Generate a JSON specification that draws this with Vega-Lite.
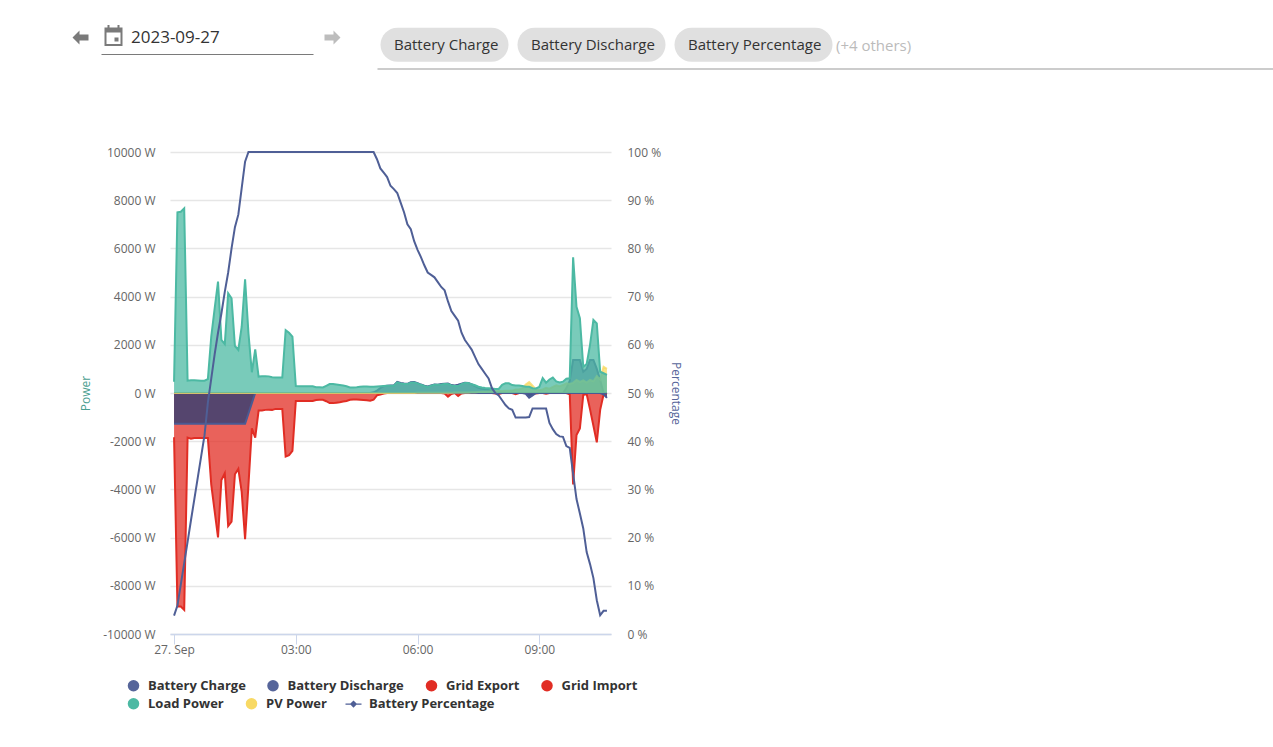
{
  "$schema": "https://vega.github.io/schema/vega-lite/v6.json",
  "width": 441,
  "height": 482,
  "autosize": {"type": "none"},
  "padding": {"left": 170, "top": 152, "right": 662, "bottom": 113},
  "background": "#ffffff",
  "config": {
    "font": "Open Sans",
    "view": {"stroke": null},
    "legend": {"title": null, "padding": 0, "labelFont": "Open Sans", "symbolStrokeWidth": 0}
  },
  "datasets": {
    "power": [
      {"t":"2023-09-27T00:00:00Z","charge":-1280,"discharge":0,"gridExport":0,"gridImport":-1840,"load":470,"pv":0,"pct":3.8},
      {"t":"2023-09-27T00:05:00Z","charge":-1280,"discharge":0,"gridExport":0,"gridImport":-8860,"load":7500,"pv":0,"pct":5.9},
      {"t":"2023-09-27T00:10:00Z","charge":-1280,"discharge":0,"gridExport":0,"gridImport":-8860,"load":7520,"pv":0,"pct":10.3},
      {"t":"2023-09-27T00:15:00Z","charge":-1280,"discharge":0,"gridExport":0,"gridImport":-9000,"load":7660,"pv":0,"pct":14.7},
      {"t":"2023-09-27T00:20:00Z","charge":-1280,"discharge":0,"gridExport":0,"gridImport":-1850,"load":510,"pv":0,"pct":19.1},
      {"t":"2023-09-27T00:25:00Z","charge":-1280,"discharge":0,"gridExport":0,"gridImport":-1900,"load":530,"pv":0,"pct":23.6},
      {"t":"2023-09-27T00:30:00Z","charge":-1280,"discharge":0,"gridExport":0,"gridImport":-1870,"load":530,"pv":0,"pct":28},
      {"t":"2023-09-27T00:35:00Z","charge":-1280,"discharge":0,"gridExport":0,"gridImport":-1870,"load":520,"pv":0,"pct":32.4},
      {"t":"2023-09-27T00:40:00Z","charge":-1280,"discharge":0,"gridExport":0,"gridImport":-1870,"load":510,"pv":0,"pct":36.8},
      {"t":"2023-09-27T00:45:00Z","charge":-1280,"discharge":0,"gridExport":0,"gridImport":-1870,"load":510,"pv":0,"pct":41.2},
      {"t":"2023-09-27T00:50:00Z","charge":-1280,"discharge":0,"gridExport":0,"gridImport":-1870,"load":580,"pv":0,"pct":48},
      {"t":"2023-09-27T00:55:00Z","charge":-1280,"discharge":0,"gridExport":0,"gridImport":-3800,"load":2340,"pv":0,"pct":53},
      {"t":"2023-09-27T01:00:00Z","charge":-1280,"discharge":0,"gridExport":0,"gridImport":-4900,"load":3500,"pv":0,"pct":58},
      {"t":"2023-09-27T01:05:00Z","charge":-1280,"discharge":0,"gridExport":0,"gridImport":-5990,"load":4620,"pv":0,"pct":62.5},
      {"t":"2023-09-27T01:10:00Z","charge":-1280,"discharge":0,"gridExport":0,"gridImport":-3610,"load":2200,"pv":0,"pct":66.5},
      {"t":"2023-09-27T01:15:00Z","charge":-1280,"discharge":0,"gridExport":0,"gridImport":-3330,"load":2030,"pv":0,"pct":71},
      {"t":"2023-09-27T01:20:00Z","charge":-1280,"discharge":0,"gridExport":0,"gridImport":-5520,"load":4140,"pv":0,"pct":75},
      {"t":"2023-09-27T01:25:00Z","charge":-1280,"discharge":0,"gridExport":0,"gridImport":-5340,"load":3930,"pv":0,"pct":80},
      {"t":"2023-09-27T01:30:00Z","charge":-1280,"discharge":0,"gridExport":0,"gridImport":-3370,"load":1950,"pv":0,"pct":84.4},
      {"t":"2023-09-27T01:35:00Z","charge":-1280,"discharge":0,"gridExport":0,"gridImport":-3150,"load":1790,"pv":0,"pct":87},
      {"t":"2023-09-27T01:40:00Z","charge":-1280,"discharge":0,"gridExport":0,"gridImport":-4100,"load":2750,"pv":0,"pct":92.5},
      {"t":"2023-09-27T01:45:00Z","charge":-1280,"discharge":0,"gridExport":0,"gridImport":-6070,"load":4720,"pv":0,"pct":98},
      {"t":"2023-09-27T01:50:00Z","charge":-850,"discharge":0,"gridExport":0,"gridImport":-3820,"load":2480,"pv":0,"pct":100},
      {"t":"2023-09-27T01:55:00Z","charge":-420,"discharge":0,"gridExport":0,"gridImport":-1470,"load":860,"pv":0,"pct":100},
      {"t":"2023-09-27T02:00:00Z","charge":0,"discharge":0,"gridExport":0,"gridImport":-1850,"load":1810,"pv":0,"pct":100},
      {"t":"2023-09-27T02:05:00Z","charge":0,"discharge":0,"gridExport":0,"gridImport":-730,"load":680,"pv":0,"pct":100},
      {"t":"2023-09-27T02:10:00Z","charge":0,"discharge":0,"gridExport":0,"gridImport":-730,"load":690,"pv":0,"pct":100},
      {"t":"2023-09-27T02:15:00Z","charge":0,"discharge":0,"gridExport":0,"gridImport":-700,"load":700,"pv":0,"pct":100},
      {"t":"2023-09-27T02:20:00Z","charge":0,"discharge":0,"gridExport":0,"gridImport":-690,"load":690,"pv":0,"pct":100},
      {"t":"2023-09-27T02:25:00Z","charge":0,"discharge":0,"gridExport":0,"gridImport":-700,"load":650,"pv":0,"pct":100},
      {"t":"2023-09-27T02:30:00Z","charge":0,"discharge":0,"gridExport":0,"gridImport":-660,"load":640,"pv":0,"pct":100},
      {"t":"2023-09-27T02:35:00Z","charge":0,"discharge":0,"gridExport":0,"gridImport":-665,"load":640,"pv":0,"pct":100},
      {"t":"2023-09-27T02:40:00Z","charge":0,"discharge":0,"gridExport":0,"gridImport":-665,"load":640,"pv":0,"pct":100},
      {"t":"2023-09-27T02:45:00Z","charge":0,"discharge":0,"gridExport":0,"gridImport":-2640,"load":2610,"pv":0,"pct":100},
      {"t":"2023-09-27T02:50:00Z","charge":0,"discharge":0,"gridExport":0,"gridImport":-2580,"load":2500,"pv":0,"pct":100},
      {"t":"2023-09-27T02:55:00Z","charge":0,"discharge":0,"gridExport":0,"gridImport":-2400,"load":2340,"pv":0,"pct":100},
      {"t":"2023-09-27T03:00:00Z","charge":0,"discharge":0,"gridExport":0,"gridImport":-330,"load":290,"pv":0,"pct":100},
      {"t":"2023-09-27T03:05:00Z","charge":0,"discharge":0,"gridExport":0,"gridImport":-330,"load":285,"pv":0,"pct":100},
      {"t":"2023-09-27T03:10:00Z","charge":0,"discharge":0,"gridExport":0,"gridImport":-330,"load":285,"pv":0,"pct":100},
      {"t":"2023-09-27T03:15:00Z","charge":0,"discharge":0,"gridExport":0,"gridImport":-330,"load":280,"pv":0,"pct":100},
      {"t":"2023-09-27T03:20:00Z","charge":0,"discharge":0,"gridExport":0,"gridImport":-330,"load":280,"pv":0,"pct":100},
      {"t":"2023-09-27T03:25:00Z","charge":0,"discharge":0,"gridExport":0,"gridImport":-330,"load":280,"pv":0,"pct":100},
      {"t":"2023-09-27T03:30:00Z","charge":0,"discharge":0,"gridExport":0,"gridImport":-290,"load":240,"pv":0,"pct":100},
      {"t":"2023-09-27T03:35:00Z","charge":0,"discharge":0,"gridExport":0,"gridImport":-280,"load":235,"pv":0,"pct":100},
      {"t":"2023-09-27T03:40:00Z","charge":0,"discharge":0,"gridExport":0,"gridImport":-285,"load":230,"pv":0,"pct":100},
      {"t":"2023-09-27T03:45:00Z","charge":0,"discharge":0,"gridExport":0,"gridImport":-340,"load":300,"pv":0,"pct":100},
      {"t":"2023-09-27T03:50:00Z","charge":0,"discharge":0,"gridExport":0,"gridImport":-420,"load":370,"pv":0,"pct":100},
      {"t":"2023-09-27T03:55:00Z","charge":0,"discharge":0,"gridExport":0,"gridImport":-420,"load":370,"pv":0,"pct":100},
      {"t":"2023-09-27T04:00:00Z","charge":0,"discharge":0,"gridExport":0,"gridImport":-400,"load":350,"pv":0,"pct":100},
      {"t":"2023-09-27T04:05:00Z","charge":0,"discharge":0,"gridExport":0,"gridImport":-380,"load":330,"pv":0,"pct":100},
      {"t":"2023-09-27T04:10:00Z","charge":0,"discharge":0,"gridExport":0,"gridImport":-350,"load":310,"pv":0,"pct":100},
      {"t":"2023-09-27T04:15:00Z","charge":0,"discharge":0,"gridExport":0,"gridImport":-330,"load":280,"pv":0,"pct":100},
      {"t":"2023-09-27T04:20:00Z","charge":0,"discharge":0,"gridExport":0,"gridImport":-280,"load":230,"pv":0,"pct":100},
      {"t":"2023-09-27T04:25:00Z","charge":0,"discharge":0,"gridExport":0,"gridImport":-270,"load":230,"pv":0,"pct":100},
      {"t":"2023-09-27T04:30:00Z","charge":0,"discharge":0,"gridExport":0,"gridImport":-270,"load":240,"pv":0,"pct":100},
      {"t":"2023-09-27T04:35:00Z","charge":0,"discharge":0,"gridExport":0,"gridImport":-280,"load":255,"pv":0,"pct":100},
      {"t":"2023-09-27T04:40:00Z","charge":0,"discharge":0,"gridExport":0,"gridImport":-290,"load":270,"pv":0,"pct":100},
      {"t":"2023-09-27T04:45:00Z","charge":0,"discharge":0,"gridExport":0,"gridImport":-300,"load":265,"pv":0,"pct":100},
      {"t":"2023-09-27T04:50:00Z","charge":0,"discharge":0,"gridExport":0,"gridImport":-320,"load":260,"pv":0,"pct":100},
      {"t":"2023-09-27T04:55:00Z","charge":0,"discharge":30,"gridExport":0,"gridImport":-280,"load":260,"pv":0,"pct":100},
      {"t":"2023-09-27T05:00:00Z","charge":0,"discharge":100,"gridExport":0,"gridImport":-100,"load":270,"pv":5,"pct":98.5},
      {"t":"2023-09-27T05:05:00Z","charge":0,"discharge":200,"gridExport":0,"gridImport":-60,"load":280,"pv":5,"pct":96.6},
      {"t":"2023-09-27T05:10:00Z","charge":0,"discharge":280,"gridExport":0,"gridImport":-20,"load":290,"pv":5,"pct":95.7},
      {"t":"2023-09-27T05:15:00Z","charge":0,"discharge":300,"gridExport":0,"gridImport":0,"load":300,"pv":5,"pct":94.8},
      {"t":"2023-09-27T05:20:00Z","charge":0,"discharge":310,"gridExport":0,"gridImport":0,"load":300,"pv":5,"pct":93},
      {"t":"2023-09-27T05:25:00Z","charge":0,"discharge":310,"gridExport":0,"gridImport":0,"load":300,"pv":5,"pct":92.3},
      {"t":"2023-09-27T05:30:00Z","charge":0,"discharge":460,"gridExport":0,"gridImport":0,"load":440,"pv":5,"pct":91.5},
      {"t":"2023-09-27T05:35:00Z","charge":0,"discharge":420,"gridExport":0,"gridImport":0,"load":400,"pv":5,"pct":89.5},
      {"t":"2023-09-27T05:40:00Z","charge":0,"discharge":390,"gridExport":0,"gridImport":0,"load":370,"pv":5,"pct":87.5},
      {"t":"2023-09-27T05:45:00Z","charge":0,"discharge":380,"gridExport":0,"gridImport":0,"load":370,"pv":5,"pct":85},
      {"t":"2023-09-27T05:50:00Z","charge":0,"discharge":450,"gridExport":0,"gridImport":0,"load":430,"pv":5,"pct":84},
      {"t":"2023-09-27T05:55:00Z","charge":0,"discharge":460,"gridExport":0,"gridImport":0,"load":440,"pv":5,"pct":81.5},
      {"t":"2023-09-27T06:00:00Z","charge":0,"discharge":410,"gridExport":0,"gridImport":0,"load":400,"pv":10,"pct":79.7},
      {"t":"2023-09-27T06:05:00Z","charge":0,"discharge":350,"gridExport":0,"gridImport":0,"load":340,"pv":10,"pct":78.2},
      {"t":"2023-09-27T06:10:00Z","charge":0,"discharge":300,"gridExport":0,"gridImport":0,"load":290,"pv":10,"pct":76.5},
      {"t":"2023-09-27T06:15:00Z","charge":0,"discharge":270,"gridExport":0,"gridImport":0,"load":250,"pv":10,"pct":75},
      {"t":"2023-09-27T06:20:00Z","charge":0,"discharge":310,"gridExport":0,"gridImport":0,"load":300,"pv":10,"pct":74.5},
      {"t":"2023-09-27T06:25:00Z","charge":0,"discharge":350,"gridExport":0,"gridImport":0,"load":340,"pv":10,"pct":74},
      {"t":"2023-09-27T06:30:00Z","charge":0,"discharge":340,"gridExport":0,"gridImport":0,"load":340,"pv":10,"pct":73},
      {"t":"2023-09-27T06:35:00Z","charge":0,"discharge":370,"gridExport":0,"gridImport":0,"load":350,"pv":15,"pct":72},
      {"t":"2023-09-27T06:40:00Z","charge":0,"discharge":380,"gridExport":0,"gridImport":-20,"load":370,"pv":15,"pct":71.3},
      {"t":"2023-09-27T06:45:00Z","charge":0,"discharge":390,"gridExport":0,"gridImport":-150,"load":370,"pv":15,"pct":69},
      {"t":"2023-09-27T06:50:00Z","charge":0,"discharge":330,"gridExport":0,"gridImport":-40,"load":310,"pv":15,"pct":67},
      {"t":"2023-09-27T06:55:00Z","charge":0,"discharge":310,"gridExport":0,"gridImport":0,"load":290,"pv":20,"pct":66},
      {"t":"2023-09-27T07:00:00Z","charge":0,"discharge":340,"gridExport":0,"gridImport":-120,"load":290,"pv":20,"pct":65},
      {"t":"2023-09-27T07:05:00Z","charge":0,"discharge":390,"gridExport":0,"gridImport":-20,"load":370,"pv":20,"pct":62.5},
      {"t":"2023-09-27T07:10:00Z","charge":0,"discharge":430,"gridExport":0,"gridImport":0,"load":420,"pv":25,"pct":61},
      {"t":"2023-09-27T07:15:00Z","charge":0,"discharge":420,"gridExport":0,"gridImport":0,"load":420,"pv":25,"pct":60},
      {"t":"2023-09-27T07:20:00Z","charge":0,"discharge":360,"gridExport":0,"gridImport":0,"load":360,"pv":30,"pct":59},
      {"t":"2023-09-27T07:25:00Z","charge":0,"discharge":290,"gridExport":0,"gridImport":0,"load":320,"pv":30,"pct":57.5},
      {"t":"2023-09-27T07:30:00Z","charge":0,"discharge":220,"gridExport":0,"gridImport":0,"load":260,"pv":40,"pct":56},
      {"t":"2023-09-27T07:35:00Z","charge":0,"discharge":180,"gridExport":0,"gridImport":0,"load":230,"pv":50,"pct":55},
      {"t":"2023-09-27T07:40:00Z","charge":0,"discharge":160,"gridExport":0,"gridImport":0,"load":210,"pv":50,"pct":54},
      {"t":"2023-09-27T07:45:00Z","charge":0,"discharge":130,"gridExport":0,"gridImport":0,"load":200,"pv":60,"pct":53},
      {"t":"2023-09-27T07:50:00Z","charge":0,"discharge":90,"gridExport":0,"gridImport":0,"load":190,"pv":70,"pct":51},
      {"t":"2023-09-27T07:55:00Z","charge":0,"discharge":50,"gridExport":0,"gridImport":-20,"load":170,"pv":70,"pct":50},
      {"t":"2023-09-27T08:00:00Z","charge":0,"discharge":20,"gridExport":0,"gridImport":-40,"load":170,"pv":80,"pct":49.5},
      {"t":"2023-09-27T08:05:00Z","charge":0,"discharge":0,"gridExport":0,"gridImport":0,"load":340,"pv":80,"pct":48.5},
      {"t":"2023-09-27T08:10:00Z","charge":0,"discharge":0,"gridExport":0,"gridImport":0,"load":400,"pv":90,"pct":47.5},
      {"t":"2023-09-27T08:15:00Z","charge":0,"discharge":0,"gridExport":0,"gridImport":0,"load":400,"pv":90,"pct":46.8},
      {"t":"2023-09-27T08:20:00Z","charge":0,"discharge":0,"gridExport":0,"gridImport":0,"load":330,"pv":100,"pct":46.5},
      {"t":"2023-09-27T08:25:00Z","charge":0,"discharge":0,"gridExport":0,"gridImport":-50,"load":310,"pv":150,"pct":44.9},
      {"t":"2023-09-27T08:30:00Z","charge":0,"discharge":0,"gridExport":0,"gridImport":0,"load":310,"pv":150,"pct":44.9},
      {"t":"2023-09-27T08:35:00Z","charge":0,"discharge":0,"gridExport":0,"gridImport":0,"load":290,"pv":200,"pct":44.9},
      {"t":"2023-09-27T08:40:00Z","charge":-30,"discharge":0,"gridExport":0,"gridImport":0,"load":260,"pv":350,"pct":44.9},
      {"t":"2023-09-27T08:45:00Z","charge":-190,"discharge":0,"gridExport":0,"gridImport":0,"load":260,"pv":450,"pct":45},
      {"t":"2023-09-27T08:50:00Z","charge":-100,"discharge":0,"gridExport":0,"gridImport":0,"load":200,"pv":300,"pct":46.8},
      {"t":"2023-09-27T08:55:00Z","charge":0,"discharge":0,"gridExport":0,"gridImport":-20,"load":190,"pv":150,"pct":46.8},
      {"t":"2023-09-27T09:00:00Z","charge":0,"discharge":0,"gridExport":0,"gridImport":0,"load":250,"pv":120,"pct":46.8},
      {"t":"2023-09-27T09:05:00Z","charge":0,"discharge":0,"gridExport":0,"gridImport":0,"load":620,"pv":150,"pct":46.8},
      {"t":"2023-09-27T09:10:00Z","charge":0,"discharge":0,"gridExport":0,"gridImport":-30,"load":430,"pv":220,"pct":46.8},
      {"t":"2023-09-27T09:15:00Z","charge":0,"discharge":0,"gridExport":0,"gridImport":0,"load":560,"pv":180,"pct":43.8},
      {"t":"2023-09-27T09:20:00Z","charge":0,"discharge":0,"gridExport":0,"gridImport":0,"load":640,"pv":250,"pct":42.5},
      {"t":"2023-09-27T09:25:00Z","charge":0,"discharge":0,"gridExport":0,"gridImport":0,"load":480,"pv":320,"pct":41.5},
      {"t":"2023-09-27T09:30:00Z","charge":0,"discharge":0,"gridExport":0,"gridImport":0,"load":440,"pv":280,"pct":41},
      {"t":"2023-09-27T09:35:00Z","charge":0,"discharge":0,"gridExport":0,"gridImport":0,"load":470,"pv":330,"pct":40.9},
      {"t":"2023-09-27T09:40:00Z","charge":0,"discharge":200,"gridExport":0,"gridImport":0,"load":590,"pv":400,"pct":39},
      {"t":"2023-09-27T09:45:00Z","charge":0,"discharge":500,"gridExport":0,"gridImport":-60,"load":610,"pv":380,"pct":38.6},
      {"t":"2023-09-27T09:50:00Z","charge":0,"discharge":1370,"gridExport":0,"gridImport":-3790,"load":5630,"pv":420,"pct":33.2},
      {"t":"2023-09-27T09:55:00Z","charge":0,"discharge":1370,"gridExport":0,"gridImport":-1740,"load":3580,"pv":540,"pct":28},
      {"t":"2023-09-27T10:00:00Z","charge":0,"discharge":1370,"gridExport":0,"gridImport":-1470,"load":3100,"pv":460,"pct":25},
      {"t":"2023-09-27T10:05:00Z","charge":0,"discharge":880,"gridExport":0,"gridImport":-80,"load":1090,"pv":520,"pct":21.9},
      {"t":"2023-09-27T10:10:00Z","charge":0,"discharge":1000,"gridExport":0,"gridImport":-40,"load":1200,"pv":430,"pct":17},
      {"t":"2023-09-27T10:15:00Z","charge":0,"discharge":1370,"gridExport":0,"gridImport":-680,"load":2000,"pv":540,"pct":14.5},
      {"t":"2023-09-27T10:20:00Z","charge":0,"discharge":1370,"gridExport":0,"gridImport":-1360,"load":3030,"pv":490,"pct":11.6},
      {"t":"2023-09-27T10:25:00Z","charge":0,"discharge":1000,"gridExport":0,"gridImport":-2050,"load":2890,"pv":700,"pct":7},
      {"t":"2023-09-27T10:30:00Z","charge":0,"discharge":540,"gridExport":0,"gridImport":-700,"load":880,"pv":560,"pct":3.9},
      {"t":"2023-09-27T10:35:00Z","charge":-50,"discharge":0,"gridExport":0,"gridImport":-60,"load":820,"pv":1090,"pct":4.8},
      {"t":"2023-09-27T10:40:00Z","charge":-200,"discharge":0,"gridExport":0,"gridImport":0,"load":750,"pv":1000,"pct":4.8}
    ]
  },
  "layer": [
    {
      "data": {"name": "power"},
      "encoding": {
        "x": {
          "field": "t",
          "type": "temporal",
          "title": null,
          "scale": {"type": "utc", "domain": [1695772440000, 1695811560000]},
          "axis": {
            "values": [1695772800000, 1695783600000, 1695794400000, 1695805200000],
            "labelExpr": "hours(datum.value) == 0 ? '27. Sep' : timeFormat(datum.value, '%H:%M')",
            "grid": false,
            "domainColor": "#ccd6eb",
            "domainWidth": 1.5,
            "tickColor": "#ccd6eb",
            "tickSize": 10,
            "tickWidth": 1,
            "labelColor": "#666666",
            "labelFontSize": 12,
            "labelPadding": 0,
            "labelFlush": false
          }
        }
      },
      "layer": [
        {
          "encoding": {
            "y": {
              "type": "quantitative",
              "scale": {"domain": [-10000, 10000]},
              "title": "Power",
              "axis": {
                "values": [-10000, -8000, -6000, -4000, -2000, 0, 2000, 4000, 6000, 8000, 10000],
                "labelExpr": "datum.value + ' W'",
                "domain": false,
                "ticks": false,
                "gridColor": "#e6e6e6",
                "gridWidth": 1.5,
                "labelColor": "#666666",
                "labelFontSize": 12,
                "labelPadding": 15,
                "titleColor": "#4a9e90",
                "titleFontSize": 12,
                "titleFontWeight": "normal",
                "titlePadding": 10
              }
            }
          },
          "layer": [
            {
              "mark": {"type": "area", "fillOpacity": 0.75},
              "encoding": {
                "y": {"field": "charge"},
                "color": {
                  "datum": "Battery Charge",
                  "scale": {
                    "domain": ["Battery Charge", "Battery Discharge", "Grid Export", "Grid Import"],
                    "range": ["#56659a", "#56659a", "#e12d24", "#e12d24"]
                  },
                  "legend": {
                    "orient": "none",
                    "legendX": -43,
                    "legendY": 527,
                    "direction": "horizontal",
                    "symbolType": "circle",
                    "symbolSize": 133,
                    "symbolOpacity": 1,
                    "labelFontSize": 13,
                    "labelFontWeight": "bold",
                    "labelColor": "#333333",
                    "labelOffset": 8,
                    "columnPadding": 20.5
                  }
                }
              }
            },
            {
              "mark": {"type": "area", "fillOpacity": 0.75},
              "encoding": {"y": {"field": "discharge"}, "color": {"datum": "Battery Discharge"}}
            },
            {
              "mark": {"type": "area", "fillOpacity": 0.75},
              "encoding": {"y": {"field": "gridExport"}, "color": {"datum": "Grid Export"}}
            },
            {
              "mark": {"type": "area", "fillOpacity": 0.75},
              "encoding": {"y": {"field": "gridImport"}, "color": {"datum": "Grid Import"}}
            },
            {
              "mark": {"type": "area", "color": "#2d467b", "opacity": 0.75},
              "encoding": {"y": {"field": "charge"}}
            },
            {
              "mark": {"type": "line", "color": "#e12d24", "strokeWidth": 2},
              "encoding": {"y": {"field": "gridImport"}}
            },
            {
              "mark": {"type": "line", "color": "#4a5a93", "strokeWidth": 2},
              "encoding": {"y": {"field": "charge"}}
            },
            {
              "mark": {"type": "line", "color": "#4a5a93", "strokeWidth": 2},
              "encoding": {"y": {"field": "discharge"}}
            },
            {
              "mark": {"type": "area", "fillOpacity": 0.75},
              "encoding": {
                "y": {"field": "pv"},
                "fill": {
                  "datum": "PV Power",
                  "scale": {"domain": ["Load Power", "PV Power"], "range": ["#4cb9a3", "#f8d964"]},
                  "legend": {
                    "orient": "none",
                    "legendX": -43,
                    "legendY": 545,
                    "direction": "horizontal",
                    "symbolType": "circle",
                    "symbolSize": 133,
                    "symbolOpacity": 1,
                    "labelFontSize": 13,
                    "labelFontWeight": "bold",
                    "labelColor": "#333333",
                    "labelOffset": 8,
                    "columnPadding": 21
                  }
                }
              }
            },
            {
              "mark": {"type": "line", "color": "#f8d964", "strokeWidth": 2, "opacity": 0.8},
              "encoding": {"y": {"field": "pv"}}
            },
            {
              "mark": {"type": "area", "fillOpacity": 0.75},
              "encoding": {"y": {"field": "load"}, "fill": {"datum": "Load Power"}}
            },
            {
              "mark": {"type": "line", "color": "#4cb9a3", "strokeWidth": 2},
              "encoding": {"y": {"field": "load"}}
            }
          ]
        },
        {
          "mark": {"type": "line", "strokeWidth": 2},
          "encoding": {
            "y": {
              "field": "pct",
              "type": "quantitative",
              "title": "Percentage",
              "scale": {"domain": [0, 100]},
              "axis": {
                "orient": "right",
                "values": [0, 10, 20, 30, 40, 50, 60, 70, 80, 90, 100],
                "labelExpr": "datum.value + ' %'",
                "grid": false,
                "domain": false,
                "ticks": false,
                "labelColor": "#666666",
                "labelFontSize": 12,
                "labelPadding": 16,
                "titleColor": "#56659a",
                "titleFontSize": 12,
                "titleFontWeight": "normal",
                "titleAngle": 90,
                "titlePadding": 8
              }
            },
            "stroke": {
              "datum": "Battery Percentage",
              "scale": {"domain": ["Battery Percentage"], "range": ["#4f5f96"]},
              "legend": {
                "orient": "none",
                "legendX": 177,
                "legendY": 545,
                "symbolType": "M-2,0L2,0L2,0.3L-2,0.3ZM-0.9,0.15L0,-0.75L0.9,0.15L0,1.05Z",
                "symbolSize": 64,
                "symbolFillColor": "#4f5f96",
                "labelFontSize": 13,
                "labelFontWeight": "bold",
                "labelColor": "#333333",
                "labelOffset": 9
              }
            }
          }
        }
      ],
      "resolve": {"scale": {"y": "independent"}}
    },
    {
      "data": {"values": [{"item": "2023-09-27"}]},
      "mark": {"type": "point", "opacity": 0, "filled": true, "color": "#7a7a7a"},
      "encoding": {
        "shape": {
          "field": "item",
          "type": "nominal",
          "scale": {
            "domain": ["2023-09-27"],
            "range": [
              "M-50,0L-43,-7L-43,-3L-34,-3L-34,3L-43,3L-43,7ZM-18,-10L0,-10L0,8.5L-18,8.5ZM-16,-5L-16,6.5L-2,6.5L-2,-5ZM-15,-12.5L-13,-12.5L-13,-10L-15,-10ZM-5,-12.5L-3,-12.5L-3,-10L-5,-10ZM-8,0L-4,0L-4,4L-8,4ZM-21,16.5L191,16.5L191,17.5L-21,17.5Z"
            ]
          },
          "legend": {
            "orient": "none",
            "legendX": -56,
            "legendY": -123,
            "symbolSize": 4,
            "symbolOpacity": 1,
            "labelFontSize": 17,
            "labelColor": "#333333",
            "labelOffset": 0
          }
        }
      }
    },
    {
      "data": {"values": [{"item": "next day"}]},
      "mark": {"type": "point", "opacity": 0, "filled": true, "color": "#bdbdbd"},
      "encoding": {
        "shape": {
          "field": "item",
          "type": "nominal",
          "scale": {
            "domain": ["next day"],
            "range": ["M8,0L1,-7L1,-3L-8,-3L-8,3L1,3L1,7Z"]
          },
          "legend": {
            "orient": "none",
            "legendX": 154,
            "legendY": -123,
            "symbolSize": 4,
            "symbolOpacity": 1,
            "labelFontSize": 17,
            "labelExpr": "''"
          }
        }
      }
    },
    {
      "data": {"values": [{"item": "Battery Charge"}, {"item": "Battery Discharge"}, {"item": "Battery Percentage"}]},
      "mark": {"type": "point", "opacity": 0, "filled": true, "color": "#e0e0e0"},
      "encoding": {
        "shape": {
          "field": "item",
          "type": "nominal",
          "scale": {
            "domain": ["Battery Charge", "Battery Discharge", "Battery Percentage"],
            "range": [
              "M11,-17L105,-17A17,17 0 0 1 105,17L11,17A17,17 0 0 1 11,-17Z",
              "M11,-17L125,-17A17,17 0 0 1 125,17L11,17A17,17 0 0 1 11,-17Z",
              "M11,-17L135,-17A17,17 0 0 1 135,17L11,17A17,17 0 0 1 11,-17Z"
            ]
          },
          "legend": {
            "orient": "none",
            "legendX": 209,
            "legendY": -115,
            "direction": "horizontal",
            "symbolSize": 4,
            "symbolOpacity": 1,
            "labelFontSize": 15,
            "labelColor": "#333333",
            "labelOffset": 0,
            "columnPadding": 7
          }
        }
      }
    },
    {
      "data": {"values": [{"item": "(+4 others)"}]},
      "mark": {"type": "point", "opacity": 0, "filled": true, "color": "#999999"},
      "encoding": {
        "shape": {
          "field": "item",
          "type": "nominal",
          "scale": {
            "domain": ["(+4 others)"],
            "range": ["M-451,23L445,23L445,24L-451,24Z"]
          },
          "legend": {
            "orient": "none",
            "legendX": 651,
            "legendY": -114,
            "symbolSize": 4,
            "symbolOpacity": 1,
            "labelFontSize": 15,
            "labelColor": "#bbbbbb",
            "labelOffset": 0
          }
        }
      }
    }
  ],
  "resolve": {"scale": {"shape": "independent"}}
}
